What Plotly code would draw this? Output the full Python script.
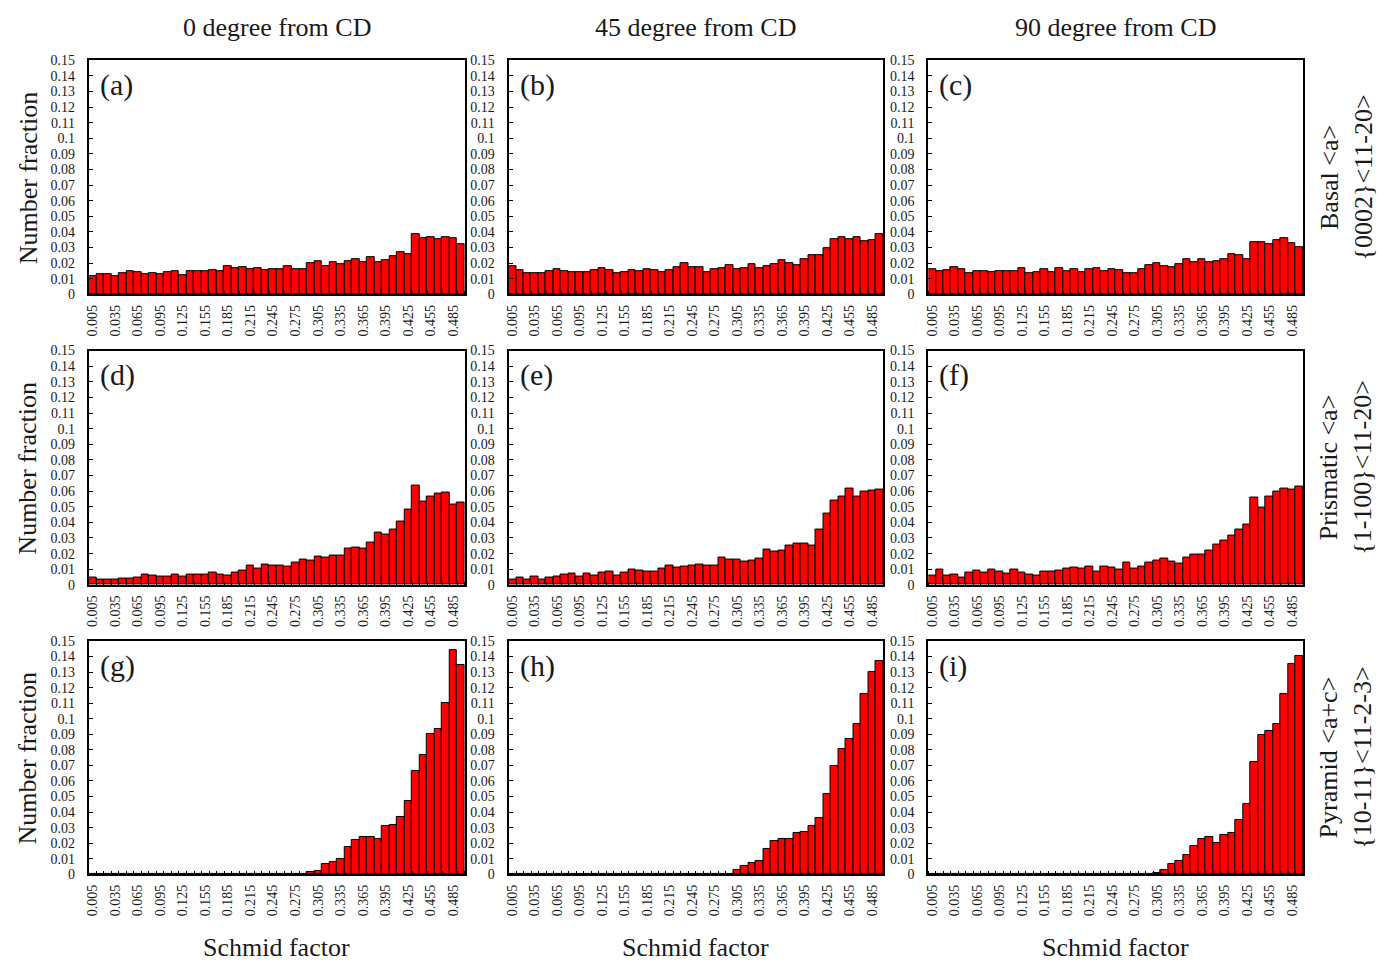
import plotly.graph_objects as go

# Bin centres of the Schmid factor histogram (0.005 ... 0.495)
bins = [round(0.005 + 0.01 * k, 3) for k in range(50)]
tick_labels = ["0.005", "0.035", "0.065", "0.095", "0.125", "0.155", "0.185", "0.215", "0.245",
               "0.275", "0.305", "0.335", "0.365", "0.395", "0.425", "0.455", "0.485"]
y_ticks = [0, 0.01, 0.02, 0.03, 0.04, 0.05, 0.06, 0.07, 0.08, 0.09, 0.1, 0.11, 0.12, 0.13, 0.14, 0.15]
y_ticktext = ["0", "0.01", "0.02", "0.03", "0.04", "0.05", "0.06", "0.07", "0.08", "0.09", "0.1",
              "0.11", "0.12", "0.13", "0.14", "0.15"]

col_titles = ["0 degree from CD", "45 degree from CD", "90 degree from CD"]
row_titles = ["Basal &lt;a&gt;<br>{0002}&lt;11-20&gt;",
              "Prismatic &lt;a&gt;<br>{1-100}&lt;11-20&gt;",
              "Pyramid &lt;a+c&gt;<br>{10-11}&lt;11-2-3&gt;"]
panel_labels = ["(a)", "(b)", "(c)", "(d)", "(e)", "(f)", "(g)", "(h)", "(i)"]

a_vals = [0.0120, 0.0133, 0.0133, 0.0114, 0.0138, 0.0150, 0.0144, 0.0130, 0.0138, 0.0130,
          0.0144, 0.0148, 0.0125, 0.0150, 0.0150, 0.0146, 0.0155, 0.0150, 0.0180, 0.0170,
          0.0174, 0.0160, 0.0170, 0.0157, 0.0160, 0.0160, 0.0184, 0.0165, 0.0165, 0.0200,
          0.0214, 0.0180, 0.0205, 0.0193, 0.0214, 0.0225, 0.0205, 0.0240, 0.0205, 0.0220,
          0.0244, 0.0273, 0.0256, 0.0383, 0.0360, 0.0370, 0.0356, 0.0370, 0.0360, 0.0324]
b_vals = [0.0180, 0.0153, 0.0136, 0.0136, 0.0136, 0.0150, 0.0162, 0.0150, 0.0145, 0.0140,
          0.0145, 0.0157, 0.0170, 0.0153, 0.0136, 0.0140, 0.0157, 0.0150, 0.0162, 0.0153,
          0.0140, 0.0157, 0.0177, 0.0198, 0.0174, 0.0174, 0.0145, 0.0162, 0.0166, 0.0187,
          0.0162, 0.0170, 0.0196, 0.0166, 0.0180, 0.0194, 0.0217, 0.0198, 0.0190, 0.0225,
          0.0249, 0.0249, 0.0298, 0.0357, 0.0370, 0.0357, 0.0368, 0.0343, 0.0347, 0.0383]
c_vals = [0.0162, 0.0151, 0.0157, 0.0174, 0.0160, 0.0136, 0.0151, 0.0151, 0.0143, 0.0151,
          0.0150, 0.0151, 0.0168, 0.0136, 0.0143, 0.0162, 0.0145, 0.0168, 0.0151, 0.0160,
          0.0145, 0.0164, 0.0168, 0.0150, 0.0164, 0.0155, 0.0134, 0.0138, 0.0164, 0.0185,
          0.0198, 0.0180, 0.0174, 0.0194, 0.0228, 0.0204, 0.0228, 0.0206, 0.0210, 0.0228,
          0.0257, 0.0249, 0.0223, 0.0336, 0.0336, 0.0325, 0.0347, 0.0362, 0.0330, 0.0302]
d_vals = [0.0048, 0.0034, 0.0034, 0.0034, 0.0040, 0.0040, 0.0046, 0.0063, 0.0057, 0.0050,
          0.0055, 0.0067, 0.0055, 0.0063, 0.0067, 0.0067, 0.0080, 0.0067, 0.0059, 0.0078,
          0.0090, 0.0122, 0.0107, 0.0130, 0.0126, 0.0126, 0.0118, 0.0143, 0.0162, 0.0158,
          0.0180, 0.0174, 0.0189, 0.0185, 0.0231, 0.0240, 0.0231, 0.0269, 0.0332, 0.0324,
          0.0355, 0.0405, 0.0485, 0.0634, 0.0531, 0.0565, 0.0582, 0.0590, 0.0515, 0.0525]
e_vals = [0.0032, 0.0044, 0.0036, 0.0055, 0.0036, 0.0049, 0.0053, 0.0066, 0.0074, 0.0055,
          0.0070, 0.0061, 0.0078, 0.0087, 0.0061, 0.0078, 0.0097, 0.0091, 0.0087, 0.0083,
          0.0106, 0.0121, 0.0112, 0.0117, 0.0125, 0.0129, 0.0121, 0.0125, 0.0172, 0.0161,
          0.0161, 0.0150, 0.0157, 0.0167, 0.0227, 0.0210, 0.0220, 0.0252, 0.0265, 0.0265,
          0.0250, 0.0352, 0.0458, 0.0542, 0.0564, 0.0619, 0.0564, 0.0595, 0.0604, 0.0612]
f_vals = [0.0059, 0.0097, 0.0059, 0.0065, 0.0048, 0.0078, 0.0093, 0.0078, 0.0101, 0.0084,
          0.0074, 0.0101, 0.0078, 0.0069, 0.0061, 0.0086, 0.0084, 0.0093, 0.0107, 0.0112,
          0.0103, 0.0114, 0.0082, 0.0120, 0.0112, 0.0101, 0.0141, 0.0105, 0.0120, 0.0145,
          0.0154, 0.0171, 0.0152, 0.0137, 0.0175, 0.0196, 0.0192, 0.0219, 0.0255, 0.0286,
          0.0314, 0.0354, 0.0385, 0.0556, 0.0497, 0.0564, 0.0600, 0.0615, 0.0610, 0.0627]
g_vals = [0, 0, 0, 0, 0, 0, 0, 0, 0, 0,
          0, 0, 0, 0, 0, 0, 0, 0, 0, 0,
          0, 0, 0, 0, 0, 0, 0, 0, 0, 0.0012,
          0.0020, 0.0068, 0.0076, 0.0101, 0.0173, 0.0218, 0.0241, 0.0237, 0.0228, 0.0311,
          0.0319, 0.0370, 0.0474, 0.0664, 0.0770, 0.0905, 0.0932, 0.1100, 0.1442, 0.1345]
h_vals = [0, 0, 0, 0, 0, 0, 0, 0, 0, 0,
          0, 0, 0, 0, 0, 0, 0, 0, 0, 0,
          0, 0, 0, 0, 0, 0, 0, 0, 0, 0,
          0.0025, 0.0053, 0.0074, 0.0083, 0.0163, 0.0214, 0.0229, 0.0225, 0.0263, 0.0271,
          0.0309, 0.0360, 0.0517, 0.0699, 0.0807, 0.0867, 0.0966, 0.1161, 0.1301, 0.1369]
i_vals = [0, 0, 0, 0, 0, 0, 0, 0, 0, 0,
          0, 0, 0, 0, 0, 0, 0, 0, 0, 0,
          0, 0, 0, 0, 0, 0, 0, 0, 0, 0.0005,
          0.0010, 0.0025, 0.0064, 0.0083, 0.0121, 0.0182, 0.0227, 0.0237, 0.0201, 0.0254,
          0.0267, 0.0352, 0.0449, 0.0725, 0.0894, 0.0920, 0.0968, 0.1159, 0.1354, 0.1403]

series = [a_vals, b_vals, c_vals, d_vals, e_vals, f_vals, g_vals, h_vals, i_vals]

W, H = 1378, 962
col_px = [(85, 462), (506, 882), (927, 1303)]
row_px = [(54, 292), (349, 587), (644, 881)]
FONT = "Liberation Serif"
TXT = "#1a1a1a"

fig = go.Figure()
label_vals = [bins[k] for k in range(0, 50, 3)]

for idx, vals in enumerate(series):
    r, c = divmod(idx, 3)
    n = idx + 1
    xname = "x" if n == 1 else f"x{n}"
    yname = "y" if n == 1 else f"y{n}"
    fig.add_trace(go.Bar(x=bins, y=vals, xaxis=xname, yaxis=yname,
                         marker=dict(color="#ff0000", line=dict(color="black", width=1)),
                         showlegend=False))
    x0, x1 = col_px[c]
    y0, y1 = row_px[r]
    xkey = "xaxis" if n == 1 else f"xaxis{n}"
    ykey = "yaxis" if n == 1 else f"yaxis{n}"
    fig.layout[xkey] = dict(
        domain=[x0 / W, x1 / W], anchor=yname, range=[0, 0.5],
        tickmode="array", tickvals=label_vals, ticktext=tick_labels, tickangle=-90,
        ticks="", showgrid=False, zeroline=False, ticklabelstandoff=3,
        showline=True, linecolor="black", linewidth=2, mirror=True,
        tickfont=dict(family=FONT, size=14, color=TXT),
        minor=dict(tickmode="linear", tick0=0, dtick=0.01, ticks="inside",
                   ticklen=3, tickcolor="black", tickwidth=1, showgrid=False),
    )
    fig.layout[ykey] = dict(
        domain=[1 - y1 / H, 1 - y0 / H], anchor=xname, range=[0, 0.15],
        tickmode="array", tickvals=y_ticks, ticktext=y_ticktext,
        ticks="inside", ticklen=4, tickcolor="black", tickwidth=1,
        showgrid=False, zeroline=False, ticklabelstandoff=9,
        showline=True, linecolor="black", linewidth=2, mirror=True,
        tickfont=dict(family=FONT, size=14, color=TXT),
    )
    fig.add_annotation(text=panel_labels[idx], xref="paper", yref="paper",
                       x=(x0 + 9) / W, y=1 - (y0 + 25) / H, xanchor="left", yanchor="middle",
                       showarrow=False, font=dict(family=FONT, size=30, color=TXT))

for c, t in enumerate(col_titles):
    x0, x1 = col_px[c]
    fig.add_annotation(text=t, xref="paper", yref="paper", x=(x0 + x1) / 2 / W, y=1 - 21 / H,
                       xanchor="center", yanchor="middle", showarrow=False,
                       font=dict(family=FONT, size=26, color=TXT))
    fig.add_annotation(text="Schmid factor", xref="paper", yref="paper",
                       x=(x0 + x1) / 2 / W, y=1 - 955 / H,
                       xanchor="center", yanchor="middle", showarrow=False,
                       font=dict(family=FONT, size=26, color=TXT))

for r, t in enumerate(row_titles):
    y0, y1 = row_px[r]
    fig.add_annotation(text="Number fraction", xref="paper", yref="paper", x=24 / W,
                       y=1 - (y0 + y1) / 2 / H, xanchor="center", yanchor="middle",
                       textangle=-90, showarrow=False,
                       font=dict(family=FONT, size=26, color=TXT))
    fig.add_annotation(text=t, xref="paper", yref="paper", x=1346 / W,
                       y=1 - (y0 + y1) / 2 / H, xanchor="center", yanchor="middle",
                       textangle=-90, showarrow=False,
                       font=dict(family=FONT, size=26, color=TXT))

fig.update_layout(width=W, height=H, margin=dict(l=0, r=0, t=0, b=0),
                  paper_bgcolor="white", plot_bgcolor="white", bargap=0)

fig.write_html("out.html")
